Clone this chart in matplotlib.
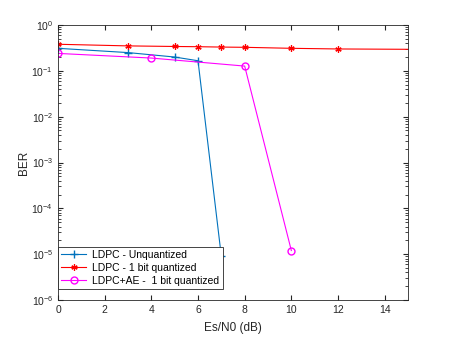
import numpy as np
import matplotlib
matplotlib.use("Agg")
import matplotlib.pyplot as plt

plt.rcParams['font.family'] = ['Liberation Sans', 'DejaVu Sans']

# Es/N0 (dB) and BER values
x_unq = [0, 3, 5, 6, 7]
ber_unq = [0.31, 0.25, 0.20, 0.166, 9e-6]

x_1bit = [0, 3, 5, 6, 7, 8, 10, 12, 15]
ber_1bit = [0.38, 0.35, 0.34, 0.336, 0.33, 0.326, 0.31, 0.30, 0.295]

x_ae = [0, 4, 8, 10]
ber_ae = [0.24, 0.19, 0.127, 1.2e-5]

fig = plt.figure(figsize=(4.5, 3.38), dpi=100)
ax = fig.add_axes([58/450, 38/338, 350/450, 275/338])

ax.semilogy(x_unq, ber_unq, color='#0072BD', marker='+', markersize=5.5, linewidth=0.8,
            label='LDPC - Unquantized')
ax.semilogy(x_1bit, ber_1bit, color='red', marker=(6, 2, 0), markersize=4.5, markeredgewidth=0.9,
            linewidth=0.8, markevery=list(range(len(x_1bit) - 1)), label='LDPC - 1 bit quantized')
ax.semilogy(x_ae, ber_ae, color='magenta', marker='o', markersize=5, markerfacecolor='none',
            linewidth=0.8, label='LDPC+AE -  1 bit quantized')

ax.set_xlim(0, 15)
ax.set_ylim(1e-6, 1)
ax.set_xticks([0, 2, 4, 6, 8, 10, 12, 14])
ax.set_yticks([1e-6, 1e-5, 1e-4, 1e-3, 1e-2, 1e-1, 1])
ax.tick_params(which='both', direction='in', top=True, right=True, labelsize=7.5, colors='#262626')
ax.tick_params(which='major', length=3.5)
ax.tick_params(which='minor', length=2)
for s in ax.spines.values():
    s.set_color('#262626')
    s.set_linewidth(0.6)

ax.set_xlabel('Es/N0 (dB)', fontsize=8.5, color='#262626', labelpad=5)
ax.set_ylabel('BER', fontsize=8.5, color='#262626', labelpad=1)

leg = ax.legend(loc='lower left', bbox_to_anchor=(0, 11/275), fontsize=7.5, fancybox=False,
                framealpha=1, edgecolor='#262626', borderaxespad=0, handlelength=2.4,
                handletextpad=0.6, borderpad=0.3, labelspacing=0.3)
leg.get_frame().set_linewidth(0.6)

fig.savefig('out.png', dpi=100)
